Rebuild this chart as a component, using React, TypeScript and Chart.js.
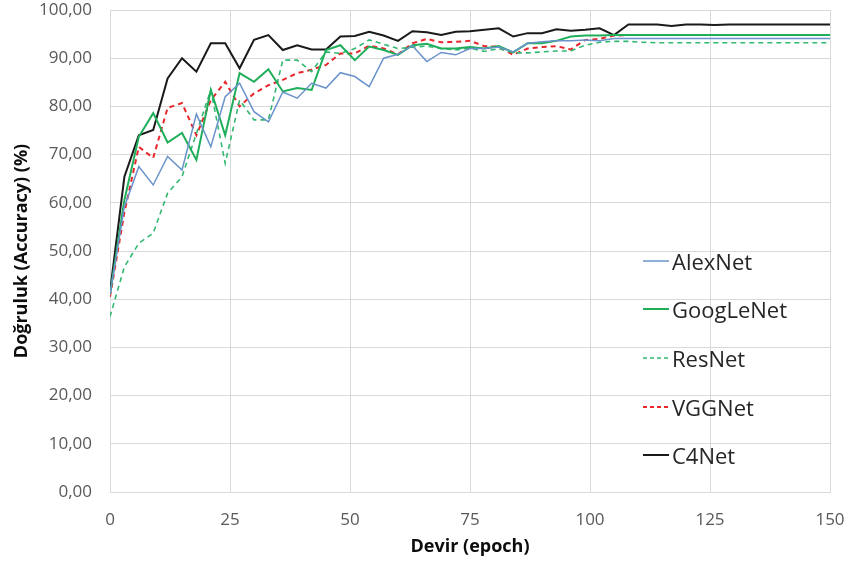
import React, { useEffect, useRef } from "react";
import { Chart, registerables } from "chart.js";

Chart.register(...registerables);

const epochs = [0, 3, 6, 9, 12, 15, 18, 21, 24, 27, 30, 33, 36, 39, 42, 45, 48, 51, 54, 57, 60, 63, 66, 69, 72, 75, 78, 81, 84, 87, 90, 93, 96, 99, 102, 105, 108, 111, 114, 117, 120, 123, 126, 129, 132, 135, 138, 141, 144, 147, 150];

const alexNet = [41, 59.2, 67.5, 63.7, 69.6, 66.8, 78.4, 71.6, 82, 84.8, 78.9, 76.8, 83, 81.7, 84.8, 83.8, 87, 86.2, 84.1, 90, 90.8, 92.6, 89.3, 91.2, 90.7, 92, 92, 92.3, 91.3, 93.1, 93.4, 93.6, 93.6, 93.8, 93.6, 94.1, 94.1, 94.1, 94.1, 94.1, 94.1, 94.1, 94.1, 94.1, 94.1, 94.1, 94.1, 94.1, 94.1, 94.1, 94.1];
const googLeNet = [41, 60.6, 73.7, 78.6, 72.5, 74.5, 68.9, 83.4, 74, 86.9, 85.1, 87.7, 83.1, 83.8, 83.4, 91.7, 92.7, 89.6, 92.4, 91.7, 90.7, 92.7, 93, 92, 92, 92.3, 92, 92.5, 91.2, 93.1, 93.1, 93.6, 94.5, 94.7, 94.7, 94.8, 94.8, 94.8, 94.8, 94.8, 94.8, 94.8, 94.8, 94.8, 94.8, 94.8, 94.8, 94.8, 94.8, 94.8, 94.8];
const resNet = [36.4, 46.7, 51.6, 53.7, 62, 65.4, 74.4, 83.4, 68.2, 81.3, 77.2, 77.2, 89.6, 89.6, 87.2, 91.3, 91, 92, 93.8, 92.9, 92, 92.3, 92.5, 92, 91.7, 92.1, 91.4, 92, 91.1, 91.1, 91.3, 91.5, 91.5, 92.7, 93.3, 93.5, 93.5, 93.3, 93.2, 93.2, 93.2, 93.2, 93.2, 93.2, 93.2, 93.2, 93.2, 93.2, 93.2, 93.2, 93.2];
const vggNet = [40.5, 58, 71.6, 69.3, 79.7, 80.7, 74, 81.3, 85.1, 80, 82.7, 84.4, 85.5, 86.9, 87.6, 88.6, 91, 91, 92.6, 92, 90.8, 93.1, 94, 93.3, 93.4, 93.6, 92.5, 92.4, 90.7, 92, 92.3, 92.5, 91.8, 93.8, 94, 94.7, 94.8, 94.8, 94.8, 94.8, 94.8, 94.8, 94.8, 94.8, 94.8, 94.8, 94.8, 94.8, 94.8, 94.8, 94.8];
const c4Net = [41.5, 65.4, 74, 75.1, 85.8, 90, 87.2, 93.1, 93.1, 87.9, 93.8, 94.8, 91.7, 92.7, 91.8, 91.8, 94.5, 94.6, 95.5, 94.7, 93.6, 95.6, 95.4, 94.8, 95.5, 95.6, 95.9, 96.2, 94.5, 95.2, 95.2, 96, 95.7, 95.9, 96.2, 94.8, 97, 97, 97, 96.7, 97, 97, 96.9, 97, 97, 97, 97, 97, 97, 97, 97];

const seriesNames = ["AlexNet", "GoogLeNet", "ResNet", "VGGNet", "C4Net"];
const seriesValues = [alexNet, googLeNet, resNet, vggNet, c4Net];
const seriesColors = ["#6a93cb", "#1fae5a", "#33b872", "#e8262b", "#1a1a1a"];
const seriesWidths = [1.5, 2, 1.6, 2, 2];
const seriesDash: number[][] = [[], [], [5, 4], [5, 4], []];

const xTicks = { min: 0, max: 150, step: 25 };
const yTicks = { min: 0, max: 100, step: 10 };

const FONT = "'Open Sans', 'DejaVu Sans', sans-serif";

export default function App() {
  const ref = useRef<HTMLCanvasElement>(null);
  useEffect(() => {
    if (!ref.current) return;
    const chart = new Chart(ref.current, {
      type: "line",
      data: {
        datasets: seriesNames.map((name, i) => ({
          label: name,
          data: epochs.map((e, j) => ({ x: e, y: seriesValues[i][j] })),
          borderColor: seriesColors[i],
          backgroundColor: seriesColors[i],
          borderWidth: seriesWidths[i],
          borderDash: seriesDash[i],
          pointRadius: 0,
          tension: 0,
          fill: false,
        })),
      },
      options: {
        animation: false,
        responsive: true,
        maintainAspectRatio: false,
        layout: { padding: { left: 0, right: 18, top: 10, bottom: 0 } },
        plugins: { legend: { display: false }, tooltip: { enabled: false } },
        scales: {
          x: {
            type: "linear",
            min: xTicks.min,
            max: xTicks.max,
            afterFit: (s: any) => { s.height = 73; s.paddingLeft = 0; s.paddingRight = 0; },
            ticks: { stepSize: xTicks.step, color: "#595959", font: { family: FONT, size: 17 }, padding: 18 },
            grid: { color: "#d9d9d9", drawTicks: false },
            border: { color: "#d9d9d9" },
            title: { display: true, text: "Devir (epoch)", color: "#0d0d0d", font: { family: FONT, size: 18, weight: "bold" }, padding: { top: 0, bottom: 7 } },
          },
          y: {
            min: yTicks.min,
            max: yTicks.max,
            afterFit: (s: any) => { s.width = 110; s.paddingTop = 0; s.paddingBottom = 0; },
            ticks: {
              stepSize: yTicks.step,
              color: "#595959",
              font: { family: FONT, size: 17 },
              padding: 18,
              callback: (v: any) => Number(v).toFixed(2).replace(".", ","),
            },
            grid: { color: "#d9d9d9", drawTicks: false },
            border: { color: "#d9d9d9" },
            title: { display: true, text: "Doğruluk (Accuracy) (%)", color: "#0d0d0d", font: { family: FONT, size: 18, weight: "bold" }, padding: { top: 11, bottom: 0 } },
          },
        },
      },
    });
    return () => chart.destroy();
  }, []);

  const legendY = [261, 309, 358, 407, 455];
  return (
    <div style={{ position: "fixed", left: 0, top: 0, width: 848, height: 565, background: "#fff" }}>
      <canvas ref={ref} />
      {seriesNames.map((name, i) => (
        <div key={name} style={{ position: "absolute", left: 642, top: legendY[i] - 16, height: 32, display: "flex", alignItems: "center", background: "transparent" }}>
          <svg width={28} height={6} style={{ display: "block" }}>
            <line x1={1} y1={3} x2={27} y2={3} stroke={seriesColors[i]} strokeWidth={seriesWidths[i]} strokeDasharray={seriesDash[i].length ? "4 3" : undefined} />
          </svg>
          <span style={{ fontFamily: FONT, fontSize: 22, color: "#262626", marginLeft: 2, lineHeight: "32px" }}>{name}</span>
        </div>
      ))}
    </div>
  );
}
